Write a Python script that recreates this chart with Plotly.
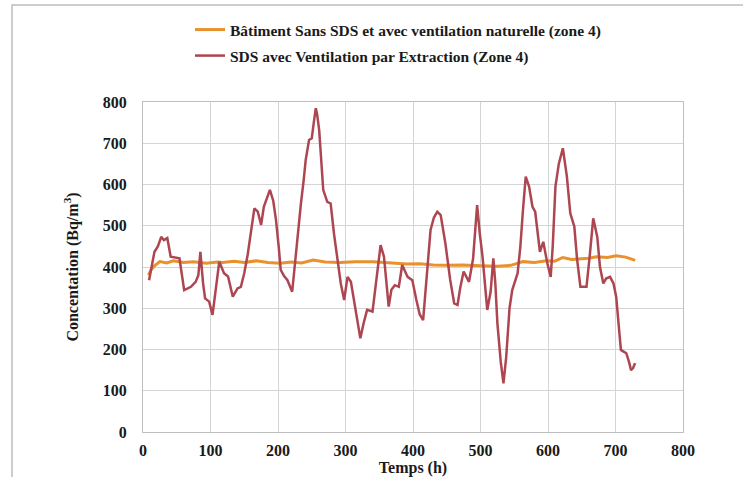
import plotly.graph_objects as go

# Orange series: Bâtiment sans SDS, ventilation naturelle (zone 4)
orange_x = [8, 12, 17, 25, 35, 45, 60, 75, 94, 110, 118, 135, 150, 168, 185, 203, 220, 235, 252, 270,
            292, 315, 341, 365, 391, 410, 430, 450, 474, 500, 524, 545, 563, 580, 598, 610, 622, 635,
            647, 660, 672, 688, 701, 715, 724, 729]
orange_y = [380, 393, 403, 413, 410, 415, 411, 413, 409, 412, 411, 414, 411, 415, 411, 409, 412, 410, 417, 412,
            411, 413, 413, 410, 407, 408, 405, 404, 405, 403, 402, 404, 413, 411, 415, 414, 423, 418,
            419, 421, 425, 423, 427, 424, 419, 416]

# Red series: SDS avec ventilation par extraction (zone 4)
red_x = [9, 12, 17, 22, 27, 31, 36, 41, 47, 54, 61, 66, 71, 78, 82, 85, 89, 92, 98, 103,
         108, 113, 120, 126, 133, 140, 145, 150, 155, 160, 165, 170, 175, 179, 184, 188, 193, 197, 201, 204,
         209, 214, 221, 226, 230, 234, 238, 241, 246, 250, 253, 256, 258, 261, 264, 267, 273, 278, 283, 288,
         293, 298, 303, 308, 315, 322, 327, 332, 340, 346, 352, 357, 361, 364, 368, 373, 379, 384, 392, 399,
         405, 410, 415, 420, 426, 431, 436, 441, 448, 455, 461, 466, 470, 475, 483, 489, 495, 499, 503, 510,
         515, 519, 522, 525, 530, 534, 538, 543, 547, 555, 559, 563, 567, 572, 577, 581, 585, 588, 593, 599,
         604, 607, 611, 616, 622, 628, 633, 639, 643, 648, 653, 657, 662, 667, 673, 677, 682, 686, 692, 697,
         701, 705, 708, 712, 716, 720, 723, 726, 729]
red_y = [368, 395, 437, 450, 473, 465, 470, 425, 423, 421, 344, 348, 352, 364, 380, 437, 360, 324, 316, 284,
         350, 413, 385, 377, 328, 348, 352, 385, 429, 480, 542, 534, 502, 546, 570, 587, 560, 514, 450, 393,
         378, 368, 340, 425, 490, 554, 610, 659, 708, 712, 750, 785, 770, 732, 660, 587, 558, 554, 480, 425,
         360, 320, 376, 364, 290, 227, 265, 296, 292, 380, 453, 425, 350, 304, 345, 356, 352, 405, 376, 368,
         320, 285, 271, 380, 490, 520, 534, 526, 457, 370, 312, 308, 350, 389, 364, 420, 550, 480, 425, 296,
         340, 421, 360, 264, 170, 118, 180, 300, 344, 385, 449, 540, 619, 595, 546, 534, 470, 437, 461, 409,
         376, 450, 595, 650, 688, 619, 530, 498, 420, 352, 352, 352, 430, 518, 473, 400, 360, 372, 376, 360,
         328, 260, 199, 195, 191, 170, 150, 155, 167]

x_ticks = [0, 100, 200, 300, 400, 500, 600, 700, 800]
y_ticks = [0, 100, 200, 300, 400, 500, 600, 700, 800]

FONT = "Liberation Serif"
TXT = "#1a1a1a"

fig = go.Figure()
fig.add_trace(go.Scatter(
    x=orange_x, y=orange_y, mode="lines",
    name="Bâtiment Sans SDS et avec ventilation naturelle (zone 4)",
    line=dict(color="#E8912D", width=3), legend="legend", showlegend=True))
fig.add_trace(go.Scatter(
    x=red_x, y=red_y, mode="lines",
    name="SDS avec Ventilation par Extraction (Zone 4)",
    line=dict(color="#AD4650", width=2.5), legend="legend2", showlegend=True))

L, R, T, B = 143, 60, 102, 45
W, H = 743, 477
pw, ph = W - L - R, H - T - B

def px(xp):
    return (xp - L) / pw

def py(yp):
    return (H - B - yp) / ph

legend_common = dict(font=dict(family=FONT, size=15.5, color=TXT, weight="bold"),
                     bgcolor="rgba(0,0,0,0)", borderwidth=0, visible=True,
                     xanchor="left", yanchor="middle", itemwidth=30)

fig.update_layout(
    width=W, height=H,
    showlegend=True,
    margin=dict(l=L, r=R, t=T, b=B, autoexpand=False),
    paper_bgcolor="white", plot_bgcolor="white",
    font=dict(family=FONT, color=TXT),
    legend=dict(x=px(190), y=py(30), **legend_common),
    legend2=dict(x=px(190), y=py(56), **legend_common),
    xaxis=dict(range=[0, 800], tickvals=x_ticks, ticktext=[str(v) for v in x_ticks],
               automargin=False,
               showgrid=True, gridcolor="#D4D4D4", gridwidth=1,
               showline=True, linecolor="#BFBFBF", linewidth=1, mirror=True,
               zeroline=False, ticks="", ticklabelstandoff=4,
               tickfont=dict(family=FONT, size=16, color=TXT, weight="bold"),
               title=dict(text="Temps (h)", standoff=2,
                          font=dict(family=FONT, size=16, color=TXT, weight="bold"))),
    yaxis=dict(range=[0, 800], tickvals=y_ticks, ticktext=[str(v) for v in y_ticks],
               automargin=False,
               showgrid=True, gridcolor="#D4D4D4", gridwidth=1,
               showline=True, linecolor="#BFBFBF", linewidth=1, mirror=True,
               zeroline=False, ticks="", ticklabelstandoff=12,
               tickfont=dict(family=FONT, size=16, color=TXT, weight="bold"),
               title=dict(text="Concentation (Bq/m<sup>3</sup>)", standoff=20,
                          font=dict(family=FONT, size=16, color=TXT, weight="bold"))),
    shapes=[
        dict(type="rect", xref="paper", yref="paper", layer="above",
             x0=px(12), x1=px(770), y0=py(500), y1=py(5),
             fillcolor="rgba(0,0,0,0)",
             line=dict(color="#BDBDBD", width=1.5)),
    ],
)

fig.write_html("out.html", config={"displayModeBar": False},
               post_script="document.body.style.margin='0';")
